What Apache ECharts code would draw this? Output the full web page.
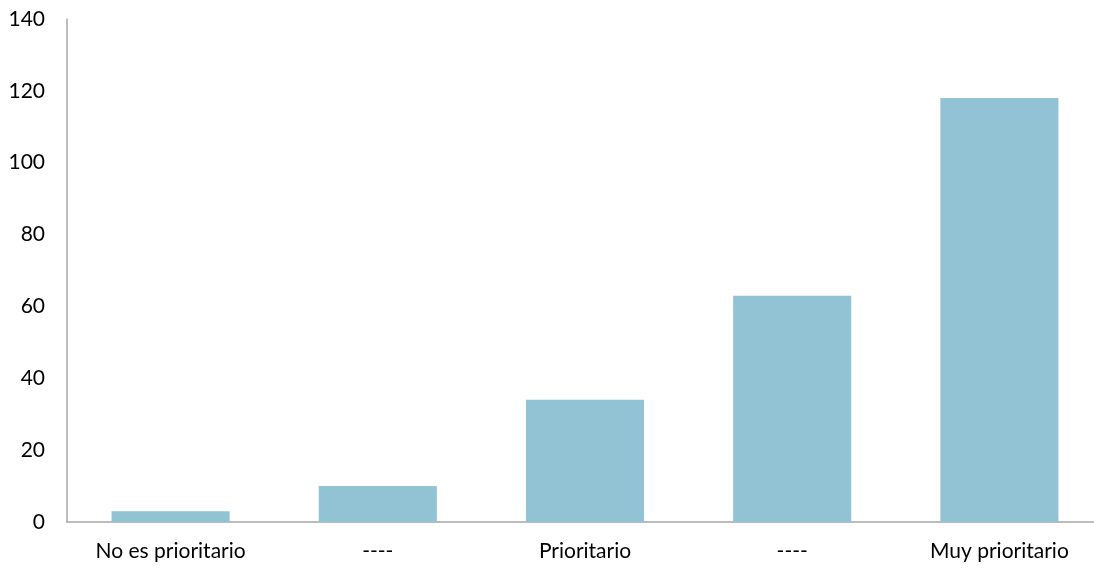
<!DOCTYPE html>
<html><head><meta charset="utf-8">
<script src="https://cdn.jsdelivr.net/npm/echarts@6/dist/echarts.min.js"></script>
<style>html,body{margin:0;padding:0;background:#fff;overflow:hidden;width:1094px;height:569px}#c{width:1103px;height:569px}</style>
</head><body><div id="c"></div>
<script>
var categories = ["No es prioritario", "----", "Prioritario", "----", "Muy prioritario"];
var values = [3, 10, 34, 63, 118];
var yTicks = [0, 20, 40, 60, 80, 100, 120, 140];

var chart = echarts.init(document.getElementById('c'), null, {renderer: 'canvas'});
chart.setOption({
  animation: false,
  grid: {left: 67, right: 0, top: 19, bottom: 47, containLabel: false},
  xAxis: {
    type: 'category', data: categories,
    axisLine: {show: true, lineStyle: {color: '#a6a6a6', width: 1.5}},
    axisTick: {show: false},
    axisLabel: {color: '#000', fontFamily: 'Lato', fontSize: 21, margin: 19, interval: 0}
  },
  yAxis: {
    type: 'value', min: yTicks[0], max: yTicks[yTicks.length - 1], interval: 20,
    axisLine: {show: true, lineStyle: {color: '#a6a6a6', width: 1.5}},
    axisTick: {show: false},
    splitLine: {show: false},
    axisLabel: {color: '#000', fontFamily: 'Lato', fontSize: 21, margin: 22}
  },
  series: [{
    type: 'bar', data: values, barWidth: '57%',
    itemStyle: {color: '#92c3d5'}
  }]
});
</script></body></html>
